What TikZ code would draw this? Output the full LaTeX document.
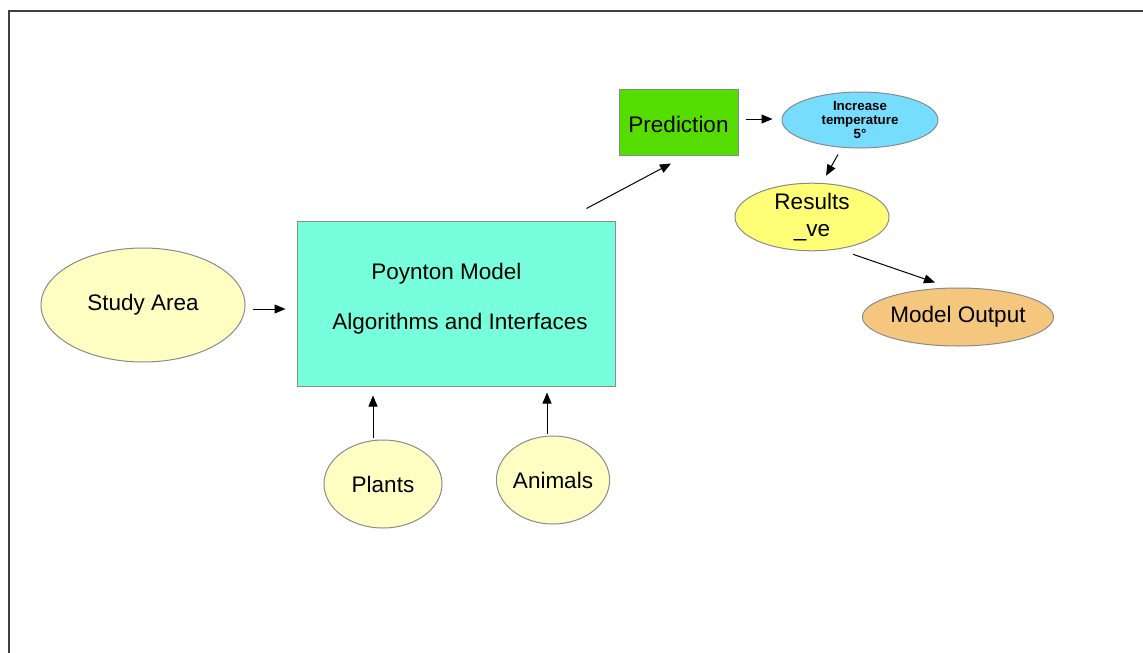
\documentclass[tikz,border=0pt]{standalone}
\usepackage{fontspec}
\setmainfont{Liberation Sans}
\usetikzlibrary{shapes.geometric,arrows.meta}

\definecolor{paleyellow}{HTML}{FFFFC4}
\definecolor{aqua}{HTML}{77FFDD}
\definecolor{leafgreen}{HTML}{55DD00}
\definecolor{skyblue}{HTML}{77DDFF}
\definecolor{lemon}{HTML}{FFFF77}
\definecolor{peach}{HTML}{F5C77E}
\definecolor{edgegray}{HTML}{8A8A8A}

\tikzset{
  bigtext/.style={font=\fontsize{22.5}{27}\selectfont},
  smalltext/.style={font=\fontsize{13.3}{14}\selectfont\bfseries},
  oval/.style={ellipse, draw=edgegray, line width=1pt, inner sep=0pt, align=center},
  box/.style={rectangle, draw=edgegray, line width=1pt, inner sep=0pt},
  arr/.style={-{Triangle[length=11pt,width=9pt]}, line width=1pt, black},
}

\begin{document}
\begin{tikzpicture}[x=1pt, y=-1pt]
  \useasboundingbox (0,0) rectangle (1143,653);
  \fill[white] (0,0) rectangle (1143,653);

  % outer frame (top and left edges)
  \draw[line width=1.4pt, black!75] (1143,11) -- (9,11) -- (9,653);

  % nodes
  \node[oval, bigtext, fill=paleyellow, minimum width=204pt, minimum height=114pt] (study) at (143,305) {Study Area};

  \node[box, fill=aqua, minimum width=318pt, minimum height=165pt,
        label={[bigtext, align=left, yshift=5pt]center:{\hspace*{47pt}Poynton Model\\[23pt]\hspace*{8pt}Algorithms and Interfaces}}]
        (main) at (456,303.5) {};

  \node[oval, bigtext, fill=paleyellow, minimum width=118pt, minimum height=88pt] (plants) at (383,484) {Plants};
  \node[oval, bigtext, fill=paleyellow, minimum width=110pt, minimum height=88pt] (animals) at (553,480) {Animals};

  \node[box, bigtext, fill=leafgreen, minimum width=119pt, minimum height=66pt, text height=23pt, text depth=3pt] (pred) at (678.5,122) {Prediction};

  \node[oval, smalltext, fill=skyblue, minimum width=156pt, minimum height=56pt] (inc) at (860,120)
    {Increase\\temperature\\5°};

  \node[oval, bigtext, fill=lemon, minimum width=154pt, minimum height=56pt] (res) at (812,217)
    {Results\\\_ve};

  \node[oval, bigtext, fill=peach, minimum width=156pt, minimum height=58pt] (out) at (958,317) {Model Output};

  % connectors
  \draw[arr] ([xshift=7pt,yshift=-4pt]study.east) -- ([xshift=-11pt,yshift=-5.5pt]main.west);
  \draw[arr] ([xshift=-10pt,yshift=2pt]plants.north) -- ([xshift=-83pt,yshift=-9pt]main.south);
  \draw[arr] ([xshift=-6pt,yshift=2pt]animals.north) -- ([xshift=91pt,yshift=-6pt]main.south);
  \draw[arr] ([xshift=-29pt,yshift=12pt]main.north east) -- ([xshift=-7.5pt,yshift=-8pt]pred.south);
  \draw[arr] ([xshift=7pt,yshift=3pt]pred.east) -- ([xshift=-9pt,yshift=1pt]inc.west);
  \draw[arr] ([xshift=-22pt,yshift=-6pt]inc.south) -- ([xshift=14pt,yshift=7pt]res.north);
  \draw[arr] ([xshift=41pt,yshift=-3pt]res.south) -- ([xshift=-23pt,yshift=5pt]out.north);
\end{tikzpicture}
\end{document}
